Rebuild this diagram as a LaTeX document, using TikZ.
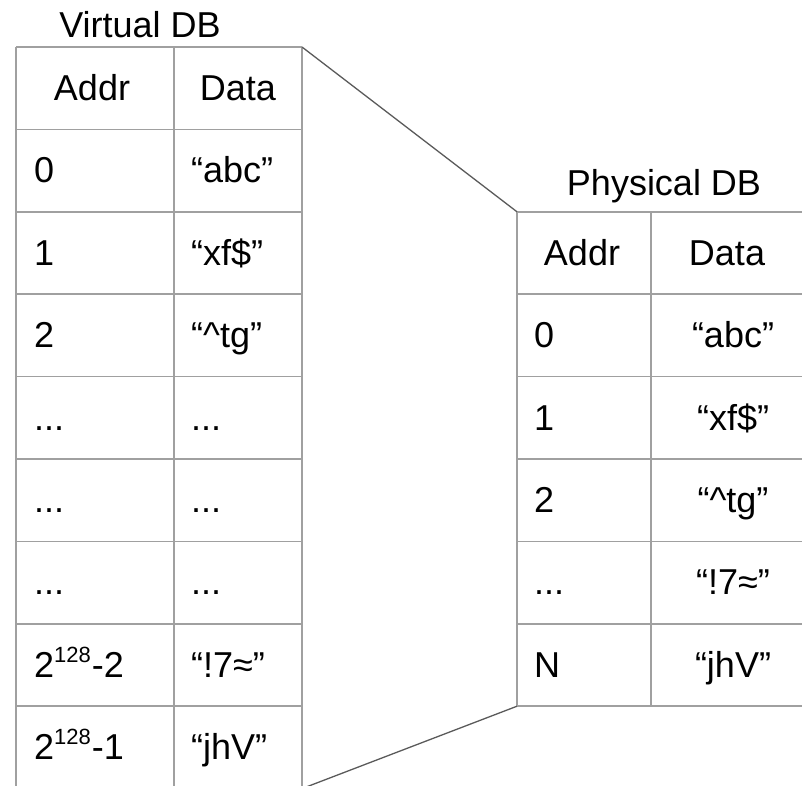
\documentclass[tikz,border=0pt]{standalone}
\usepackage{fontspec}
\setmainfont{Liberation Sans}
\definecolor{gridgray}{HTML}{A0A0A0}
\definecolor{linkgray}{HTML}{5A5A5A}
\newcommand{\pow}[1]{2\raisebox{15pt}{\fontsize{22}{22}\selectfont 128}\kern1pt-#1}
\newcommand{\tdots}{...}
\begin{document}
\begin{tikzpicture}[x=1pt,y=-1pt,
  grid/.style={draw=gridgray, line width=1.7pt},
  link/.style={draw=linkgray, line width=1.3pt},
  txt/.style={inner sep=0pt, font=\fontsize{36}{42}\selectfont},
  lcell/.style={txt, anchor=base west},
  ccell/.style={txt, anchor=base}]
\useasboundingbox (0,0) rectangle (802,785);
\clip (0,0) rectangle (802,785);

% ---- Virtual DB table: 1 header row + 8 rows ----
\foreach \i in {0,1,2,3,4,5,6,7,8,9}
  \draw[grid] (16,47+\i*82.4) -- (302,47+\i*82.4);
\foreach \x in {16,174,302}
  \draw[grid] (\x,47) -- (\x,788.6);

\node[ccell] (vtitle) at (140,37) {Virtual DB};
\node[ccell] (vhaddr) at (92,100.5) {Addr};
\node[ccell] (vhdata) at (238,100.5) {Data};
\foreach \a/\d [count=\k] in {0/“abc”, 1/“xf\$”, 2/“\textasciicircum tg”,
    \tdots/\tdots, \tdots/\tdots, \tdots/\tdots, \pow{2}/“!7≈”, \pow{1}/“jhV”}{
  \node[lcell] (va\k) at (34,100.5+\k*82.4) {\a};
  \node[lcell] (vd\k) at (191,100.5+\k*82.4) {\d};
}

% ---- Physical DB table: 1 header row + 5 rows ----
\foreach \i in {0,1,2,3,4,5,6}
  \draw[grid] (517,211.8+\i*82.4) -- (813,211.8+\i*82.4);
\foreach \x in {517,651,813}
  \draw[grid] (\x,211.8) -- (\x,706.2);

\node[ccell] (ptitle) at (664,195) {Physical DB};
\node[ccell] (phaddr) at (582,265.3) {Addr};
\node[ccell] (phdata) at (727,265.3) {Data};
\foreach \a/\d [count=\k] in {0/“abc”, 1/“xf\$”, 2/“\textasciicircum tg”,
    \tdots/“!7≈”, N/“jhV”}{
  \node[lcell] (pa\k) at (534,265.3+\k*82.4) {\a};
  \node[ccell] (pd\k) at (733,265.3+\k*82.4) {\d};
}

% ---- mapping lines between the tables ----
\coordinate (vtop) at (302,47);
\coordinate (vbot) at (302,788.6);
\coordinate (ptop) at (517,211.8);
\coordinate (pbot) at (517,706.2);
\draw[link] (vtop) -- (ptop);
\draw[link] (pbot) -- (vbot);
\end{tikzpicture}
\end{document}
